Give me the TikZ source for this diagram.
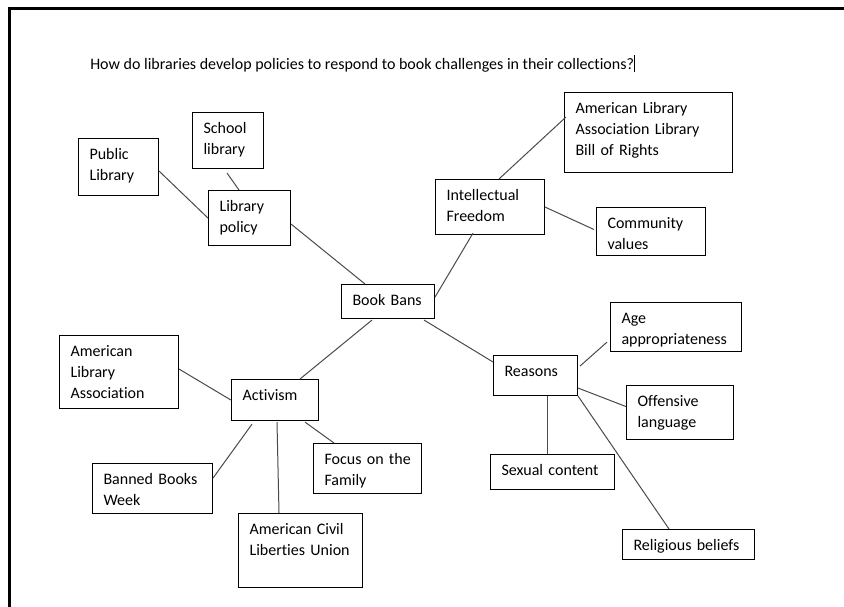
\documentclass[tikz,border=0pt]{standalone}
\usepackage{fontspec}
\setmainfont{Carlito}[Ligatures=NoCommon]
\usepackage{tikz}
\usetikzlibrary{calc}
\definecolor{edgegray}{HTML}{4A4A4A}

\begin{document}
\begin{tikzpicture}[x=0.75pt,y=-0.75pt,font=\fontsize{12pt}{15.75pt}\selectfont]
  \tikzset{blk/.style 2 args={draw,line width=0.8pt,anchor=north west,align=left,inner xsep=8.25pt,inner ysep=0pt,
      text height=15.4pt,text width=#1,text depth=#2},
    link/.style={draw=edgegray,line width=0.75pt}}
  \useasboundingbox (0,0) rectangle (844,607);
  \draw[line width=1.6pt] (844,8.5) -- (9.5,8.5) -- (9.5,607);
  \node[anchor=base west,inner sep=0pt] (question) at (90,69)
    {How do libraries develop policies to respond to book challenges in their collections?\rule[-2.5pt]{0.6pt}{13pt}};
  % centre
  \node[blk={53.25pt}{10.1pt}] (bans) at (341,284) {Book Bans};
  % library policy branch
  \node[blk={45pt}{25.9pt}] (policy) at (208,190) {Library\\policy};
  \node[blk={43.5pt}{27.4pt}] (public) at (78,138) {Public\\Library};
  \node[blk={36.75pt}{26.6pt}] (school) at (192,112) {School\\library};
  % intellectual freedom branch
  \node[blk={65.25pt}{25.9pt}] (freedom) at (435,179) {Intellectual\\Freedom};
  \node[blk={109.5pt}{44.6pt}] (bill) at (564,92) {American Library\\Association Library\\Bill of Rights};
  \node[blk={65.25pt}{20.6pt}] (community) at (596,207) {Community\\values};
  % reasons branch
  \node[blk={46.5pt}{14.6pt}] (reasons) at (493,355) {Reasons};
  \node[blk={81.75pt}{21.4pt}] (age) at (610,302) {Age\\appropriateness};
  \node[blk={63.75pt}{25.1pt}] (offensive) at (626,385) {Offensive\\language};
  \node[blk={76.5pt}{10.9pt}] (sexual) at (490,454) {Sexual content};
  \node[blk={82.5pt}{7.1pt}] (religious) at (622,529) {Religious beliefs};
  % activism branch
  \node[blk={48.75pt}{15.4pt}] (activism) at (231,379) {Activism};
  \node[blk={72.75pt}{39.4pt}] (ala) at (59,335) {American\\Library\\Association};
  \node[blk={73.5pt}{22.1pt}] (week) at (92,463) {\mbox{Banned Books}\\Week};
  \node[blk={76.5pt}{40.1pt}] (aclu) at (238,513) {\mbox{American Civil}\\\mbox{Liberties Union}};
  \node[blk={64.5pt}{22.1pt}] (focus) at (313,443) {\mbox{Focus on the}\\Family};

  \path[link] ($(policy.east)+(0,6)$) -- ($(bans.north west)+(24,0)$);
  \path[link] ($(public.east)+(0,4)$) -- (policy.west);
  \path[link] ($(school.south)+(-1,4)$) -- ($(policy.north west)+(31,0)$);
  \path[link] ($(bans.north east)+(0,13)$) -- ($(freedom.south west)+(38,-2)$);
  \path[link] ($(freedom.north west)+(64,0)$) -- ($(bill.north west)+(2,25)$);
  \path[link] (freedom.east) -- ($(community.west)+(-2,-2)$);
  \path[link] ($(bans.south east)+(-11,1)$) -- ($(reasons.north west)+(0,7)$);
  \path[link] ($(reasons.north east)+(2,11)$) -- ($(age.south west)+(-3,-10)$);
  \path[link] ($(reasons.south east)+(0,-8)$) -- ($(offensive.west)+(0,-6)$);
  \path[link] ($(reasons.south west)+(54,0)$) -- ($(sexual.north west)+(57,0)$);
  \path[link] (reasons.south east) -- ($(religious.north west)+(47,0)$);
  \path[link] ($(bans.south west)+(31,1)$) -- ($(activism.north west)+(69,0)$);
  \path[link] ($(ala.east)+(0,-3)$) -- (activism.west);
  \path[link] ($(activism.south west)+(21,3)$) -- ($(week.north east)+(0,15)$);
  \path[link] ($(activism.south west)+(46,1)$) -- ($(aclu.north west)+(41,0)$);
  \path[link] ($(activism.south east)+(-14,1)$) -- ($(focus.north west)+(21,0)$);
\end{tikzpicture}
\end{document}
